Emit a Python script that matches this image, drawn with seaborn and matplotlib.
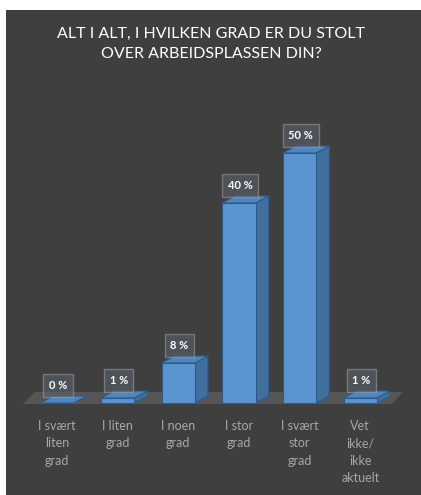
import matplotlib
matplotlib.use("Agg")
import matplotlib.pyplot as plt
import seaborn as sns
import pandas as pd
from matplotlib.patches import Polygon, Rectangle

categories = ["I svært\nliten\ngrad", "I liten\ngrad", "I noen\ngrad", "I stor\ngrad",
              "I svært\nstor\ngrad", "Vet\nikke/\nikke\naktuelt"]
values = [0, 1, 8, 40, 50, 1]
labels = ["0 %", "1 %", "8 %", "40 %", "50 %", "1 %"]
title = "ALT I ALT, I HVILKEN GRAD ER DU STOLT\nOVER ARBEIDSPLASSEN DIN?"

BG = "#3f3f3f"
FRONT = "#5a95d2"
SIDE = "#41709f"
TOP = "#4d87c2"
EDGE = "#2c5a8a"

sns.set_theme(style="white")
plt.rcParams["font.family"] = ["Lato", "DejaVu Sans"]

W, H = 421, 495
fig = plt.figure(figsize=(W / 100, H / 100), dpi=100, facecolor="white")
fig.patches.append(Rectangle((6 / W, 0), 1 - 6 / W, 1 - 10 / H, transform=fig.transFigure,
                             facecolor=BG, edgecolor="none", zorder=-5))

# axes geometry in pixels
ax_left_px, ax_w_px = 26.6, 364.0
base_px = 403.0
ymax = 60.0
px_per_unit = 5.0
ax_h_px = ymax * px_per_unit
ax = fig.add_axes([ax_left_px / W, 1 - base_px / H, ax_w_px / W, ax_h_px / H])
ax.set_facecolor("none")
ax.set_zorder(2)

df = pd.DataFrame({"cat": categories, "val": values})
sns.barplot(data=df, x="cat", y="val", color=FRONT, width=0.55, saturation=1,
            edgecolor=EDGE, linewidth=0.8, ax=ax, zorder=3)
ax.set_xlim(-0.5, 5.5)
ax.set_ylim(0, ymax)

xpu = ax_w_px / 6.0
dx = 13.0 / xpu
dy = 7.0 / px_per_unit


def px2x(px):
    return (px - ax_left_px) / xpu - 0.5


# floor
yb, yt = -1.0 / px_per_unit, 11.0 / px_per_unit
floor = Polygon([(px2x(23), yb), (px2x(392), yb), (px2x(403), yt), (px2x(35), yt)],
                closed=True, facecolor="#565656", edgecolor="none", zorder=1, clip_on=False)
ax.add_patch(floor)

for p, lab in zip(ax.patches[:len(values)], labels):
    x0 = p.get_x()
    w = p.get_width()
    h = p.get_height()
    x1 = x0 + w
    side = Polygon([(x1, 0), (x1 + dx, dy), (x1 + dx, h + dy), (x1, h)], closed=True,
                   facecolor=SIDE, edgecolor=EDGE, linewidth=0.8, zorder=2.5, clip_on=False)
    top = Polygon([(x0, h), (x1, h), (x1 + dx, h + dy), (x0 + dx, h + dy)], closed=True,
                  facecolor=TOP, edgecolor=EDGE, linewidth=0.8, zorder=3.5, clip_on=False)
    ax.add_patch(side)
    ax.add_patch(top)
    ax.text(x0 + w / 2 + 0.02, h + dy + 1.0, lab, ha="center", va="bottom", color="white",
            fontsize=8, fontweight="bold", zorder=5,
            bbox=dict(boxstyle="square,pad=0.5", facecolor="#5a6470", alpha=0.55,
                      edgecolor="#a0a0a0", linewidth=1.0))

ax.set_xlabel("")
ax.set_ylabel("")
ax.set_yticks([])
ax.tick_params(axis="x", length=0, pad=12, labelsize=9, labelcolor="#a8a8a8")
for t in ax.get_xticklabels():
    t.set_linespacing(1.55)
for s in ax.spines.values():
    s.set_visible(False)

fig.text(211 / W, 1 - 27 / H, title, ha="center", va="top", color="white",
         fontsize=11.5, linespacing=1.55)

fig.savefig("out.png", dpi=100, facecolor=fig.get_facecolor())
